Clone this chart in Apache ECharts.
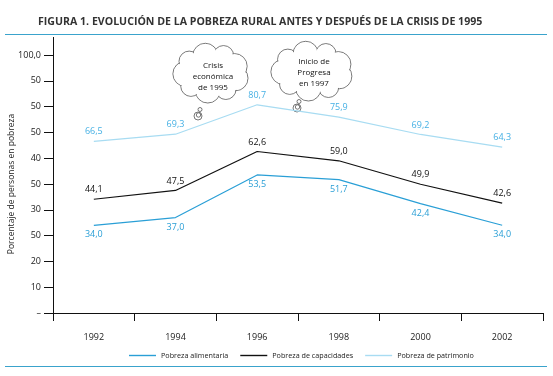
<!DOCTYPE html>
<html>
<head>
<meta charset="utf-8">
<style>
  html, body { margin: 0; padding: 0; background: #fff; }
  #chart { width: 553px; height: 376px; }
</style>
<script src="https://cdn.jsdelivr.net/npm/echarts@6/dist/echarts.min.js"></script>
</head>
<body>
<div id="chart"></div>
<script>
const years = ['1992', '1994', '1996', '1998', '2000', '2002']
const alimentaria = [34.0, 37.0, 53.5, 51.7, 42.4, 34.0]
const capacidades = [44.1, 47.5, 62.6, 59.0, 49.9, 42.6]
const patrimonio = [66.5, 69.3, 80.7, 75.9, 69.2, 64.3]
// tick labels as printed in the original, from 0 up to 100
const yTickLabels = ['–', '10', '20', '50', '30', '50', '40', '50', '50', '50', '100,0']

const FONT = '"Open Sans", "Noto Sans", sans-serif'
const fmt = (v) => v.toFixed(1).replace('.', ',')

// cloud outline built from overlapping circles
function cloud(cx, cy, rx, ry, bumps, r, lines, textY) {
  const children = []
  const pts = []
  for (let i = 0; i < bumps; i++) {
    const a = (i / bumps) * Math.PI * 2 + 0.3
    const rr = r * (i % 2 ? 0.85 : 1.05)
    pts.push([cx + Math.cos(a) * (rx - rr * 0.75), cy + Math.sin(a) * (ry - rr * 0.75), rr])
  }
  pts.forEach(([x, y, rr]) => {
    children.push({ type: 'circle', shape: { cx: x, cy: y, r: rr }, z2: 0,
      style: { fill: '#fff', stroke: '#555', lineWidth: 0.8 } })
  })
  pts.forEach(([x, y, rr]) => {
    children.push({ type: 'circle', shape: { cx: x, cy: y, r: rr - 0.9 }, z2: 1,
      style: { fill: '#fff' } })
  })
  children.push({ type: 'ellipse', shape: { cx, cy, rx: rx - r * 0.6, ry: ry - r * 0.6 }, z2: 1,
    style: { fill: '#fff' } })
  lines.forEach((t, i) => {
    children.push({ type: 'text', x: cx + 2, y: textY + i * 11, z2: 2,
      style: { text: t, fill: '#111', font: '8px ' + FONT, align: 'center', verticalAlign: 'middle' } })
  })
  return { type: 'group', children }
}

function bubble(x, y) {
  return { type: 'group', children: [
    { type: 'circle', shape: { cx: x, cy: y, r: 4 }, style: { fill: '#fff', stroke: '#555', lineWidth: 0.8 } },
    { type: 'circle', shape: { cx: x + 0.5, cy: y - 1, r: 2.2 }, z2: 1, style: { fill: 'none', stroke: '#555', lineWidth: 0.8 } },
    { type: 'circle', shape: { cx: x + 2, cy: y - 6.5, r: 2 }, style: { fill: '#fff', stroke: '#555', lineWidth: 0.8 } }
  ] }
}

const chart = echarts.init(document.getElementById('chart'), null, { renderer: 'canvas' })

const labelStyle = (color, pos) => ({
  show: true,
  position: pos,
  distance: 5,
  color,
  fontSize: 9,
  fontFamily: FONT,
  formatter: (p) => fmt(p.value)
})

const lineSeries = (name, data, color, labelColor, pos) => ({
  name,
  type: 'line',
  data,
  symbol: 'circle',
  symbolSize: 0,
  showSymbol: true,
  lineStyle: { color, width: 1.2 },
  itemStyle: { color },
  label: labelStyle(labelColor, pos)
})

chart.setOption({
  backgroundColor: '#fff',
  animation: false,
  title: {
    text: 'FIGURA 1. EVOLUCIÓN DE LA POBREZA RURAL ANTES Y DESPUÉS DE LA CRISIS DE 1995',
    left: 33,
    top: 11,
    textStyle: { fontSize: 10.6, fontWeight: 'bold', color: '#333', fontFamily: FONT }
  },
  grid: { left: 53, right: 10, top: 55, bottom: 63, outerBoundsMode: 'none' },
  legend: {
    bottom: 12,
    left: 124,
    icon: 'rect',
    itemWidth: 27,
    itemHeight: 1.4,
    itemGap: 12,
    textStyle: { fontSize: 7.2, color: '#222', fontFamily: FONT },
    data: ['Pobreza alimentaria', 'Pobreza de capacidades', 'Pobreza de patrimonio']
  },
  xAxis: {
    type: 'category',
    data: years,
    boundaryGap: true,
    axisLine: { lineStyle: { color: '#111', width: 1 } },
    axisTick: { show: true, length: 8, lineStyle: { color: '#111' } },
    axisLabel: { color: '#222', fontSize: 9, fontFamily: FONT, margin: 20 }
  },
  yAxis: {
    type: 'value',
    min: 0,
    max: 100,
    interval: 10,
    name: 'Porcentaje de personas en pobreza',
    nameLocation: 'middle',
    nameGap: 37,
    nameMoveOverlap: false,
    nameTextStyle: { fontSize: 8.5, color: '#222', fontFamily: FONT },
    axisLine: { show: true, lineStyle: { color: '#111', width: 1 } },
    axisTick: { show: true, length: 9, lineStyle: { color: '#111' } },
    splitLine: { show: false },
    axisLabel: {
      color: '#222', fontSize: 9, fontFamily: FONT, margin: 12, showMinLabel: true,
      formatter: (v) => yTickLabels[Math.round(v / 10)]
    }
  },
  series: [
    lineSeries('Pobreza alimentaria', alimentaria, '#2a9fd6', '#2a9fd6', 'bottom'),
    lineSeries('Pobreza de capacidades', capacidades, '#111', '#111', 'top'),
    lineSeries('Pobreza de patrimonio', patrimonio, '#a8dcf2', '#45b0e4', 'top')
  ],
  graphic: [
    { type: 'line', shape: { x1: 5, y1: 34.5, x2: 547, y2: 34.5 }, style: { stroke: '#3aa3cc', lineWidth: 1.2 } },
    { type: 'line', shape: { x1: 5, y1: 366.5, x2: 547, y2: 366.5 }, style: { stroke: '#3aa3cc', lineWidth: 1.2 } },
    // y axis runs above the 100 tick and below the x axis
    { type: 'line', shape: { x1: 53.5, y1: 37, x2: 53.5, y2: 56 }, style: { stroke: '#111', lineWidth: 1 } },
    { type: 'line', shape: { x1: 53.5, y1: 313, x2: 53.5, y2: 321 }, style: { stroke: '#111', lineWidth: 1 } },
    bubble(198, 116),
    cloud(211, 73, 35, 27, 9, 12, ['Crisis', 'económica', 'de 1995'], 66),
    bubble(297, 108),
    cloud(312, 71, 38, 27, 9, 12, ['Inicio de', 'Progresa', 'en 1997'], 62)
  ]
})
</script>
</body>
</html>
